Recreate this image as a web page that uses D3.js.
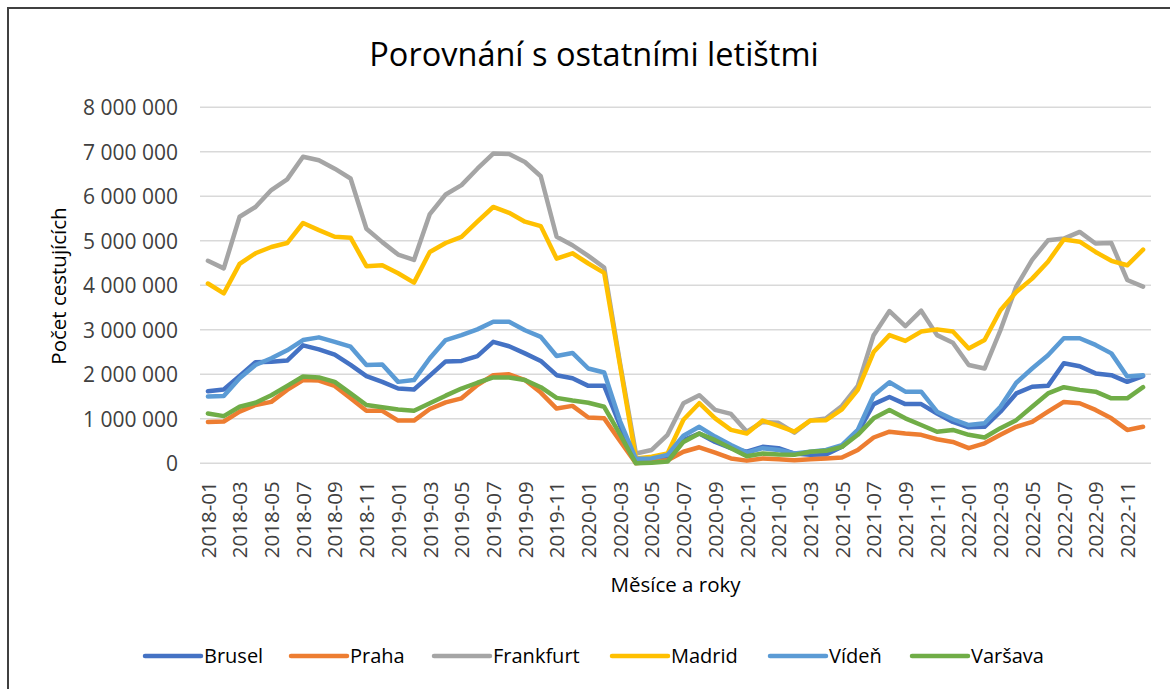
<!DOCTYPE html>
<html>
<head>
<meta charset="utf-8">
<script src="https://cdn.jsdelivr.net/npm/d3@7"></script>
<style>
  body { margin: 0; background: #fff; }
  svg { display: block; font-family: "Open Sans", sans-serif; }
</style>
</head>
<body>
<svg id="chart" width="1170" height="689"></svg>
<script>
// categories: months 2018-01 .. 2022-12
var years = [2018, 2019, 2020, 2021, 2022];
var months = ["01", "02", "03", "04", "05", "06", "07", "08", "09", "10", "11", "12"];
var categories = [];
years.forEach(function(y) { months.forEach(function(m) { categories.push(y + "-" + m); }); });

// passengers per month, millions
var brusel = [1.62,1.66,1.96,2.27,2.28,2.31,2.65,2.56,2.44,2.21,1.96,1.83,1.68,1.66,1.97,2.29,2.30,2.41,2.73,2.63,2.47,2.30,1.98,1.91,1.74,1.74,0.85,0.07,0.07,0.15,0.52,0.67,0.48,0.34,0.26,0.37,0.34,0.22,0.19,0.20,0.37,0.69,1.33,1.49,1.33,1.33,1.12,0.93,0.81,0.82,1.16,1.57,1.72,1.74,2.25,2.18,2.02,1.98,1.83,1.96];
var praha = [0.93,0.94,1.16,1.31,1.38,1.65,1.87,1.86,1.74,1.46,1.18,1.18,0.96,0.96,1.22,1.37,1.46,1.76,1.98,2.00,1.87,1.59,1.23,1.29,1.03,1.01,0.50,0.00,0.04,0.07,0.26,0.36,0.24,0.11,0.06,0.11,0.09,0.07,0.09,0.11,0.13,0.30,0.58,0.71,0.67,0.64,0.54,0.48,0.34,0.45,0.64,0.82,0.93,1.16,1.38,1.35,1.20,1.01,0.75,0.82];
var frankfurt = [4.55,4.38,5.54,5.76,6.14,6.38,6.89,6.81,6.62,6.40,5.27,4.97,4.69,4.57,5.60,6.04,6.25,6.62,6.96,6.95,6.77,6.45,5.09,4.90,4.66,4.40,2.25,0.22,0.30,0.64,1.35,1.53,1.20,1.11,0.71,0.93,0.91,0.69,0.96,1.01,1.29,1.74,2.88,3.42,3.08,3.43,2.88,2.71,2.21,2.13,2.99,3.97,4.57,5.01,5.05,5.20,4.94,4.95,4.12,3.97];
var madrid = [4.04,3.82,4.48,4.72,4.86,4.95,5.40,5.24,5.09,5.07,4.43,4.45,4.27,4.06,4.75,4.95,5.09,5.43,5.76,5.63,5.43,5.33,4.60,4.72,4.49,4.28,2.20,0.11,0.15,0.22,0.98,1.35,1.01,0.75,0.67,0.96,0.84,0.71,0.96,0.97,1.21,1.65,2.50,2.88,2.75,2.96,3.01,2.96,2.58,2.77,3.44,3.85,4.15,4.53,5.03,4.98,4.75,4.55,4.45,4.80];
var viden = [1.50,1.51,1.91,2.21,2.36,2.54,2.77,2.83,2.73,2.62,2.21,2.22,1.83,1.87,2.36,2.77,2.88,3.01,3.18,3.18,2.99,2.84,2.41,2.48,2.13,2.04,0.95,0.10,0.11,0.19,0.62,0.82,0.60,0.41,0.24,0.34,0.30,0.22,0.26,0.30,0.41,0.75,1.53,1.82,1.61,1.61,1.16,0.99,0.86,0.90,1.27,1.81,2.13,2.43,2.81,2.81,2.66,2.47,1.95,1.98];
var varsava = [1.12,1.06,1.27,1.36,1.53,1.74,1.95,1.93,1.83,1.57,1.31,1.26,1.21,1.18,1.35,1.52,1.68,1.81,1.93,1.93,1.87,1.71,1.47,1.41,1.36,1.27,0.65,0.00,0.01,0.04,0.48,0.67,0.52,0.34,0.16,0.22,0.20,0.19,0.26,0.28,0.37,0.64,1.01,1.20,1.01,0.86,0.71,0.75,0.64,0.58,0.79,0.97,1.27,1.57,1.71,1.65,1.61,1.46,1.46,1.71];

var seriesNames = ["Brusel", "Praha", "Frankfurt", "Madrid", "Vídeň", "Varšava"];
var seriesValues = [brusel, praha, frankfurt, madrid, viden, varsava];
var seriesColors = ["#4472C4", "#ED7D31", "#A5A5A5", "#FFC000", "#5B9BD5", "#70AD47"];
var yTicks = [0, 1000000, 2000000, 3000000, 4000000, 5000000, 6000000, 7000000, 8000000];

var svg = d3.select("#chart");

// outer frame (cut off at right and bottom like the source image)
svg.append("path")
	.attr("d", "M8,689 L8,8 L1170,8")
	.attr("fill", "none")
	.attr("stroke", "#404040")
	.attr("stroke-width", 2);

var plot = { left: 200, right: 1151, top: 107.3, bottom: 463.3 };

var x = d3.scalePoint()
	.domain(categories)
	.range([plot.left, plot.right])
	.padding(0.5);

var y = d3.scaleLinear()
	.domain([0, 8000000])
	.range([plot.bottom, plot.top]);

var fmt = function(v) { return d3.format(",")(v).replace(/,/g, " "); };

// gridlines
svg.append("g").selectAll("line")
	.data(yTicks)
	.join("line")
	.attr("x1", plot.left)
	.attr("x2", plot.right)
	.attr("y1", function(d) { return y(d); })
	.attr("y2", function(d) { return y(d); })
	.attr("stroke", "#D9D9D9")
	.attr("stroke-width", 1.5);

// y axis labels
var yAxis = svg.append("g")
	.attr("transform", "translate(" + (plot.left - 22) + ",0)")
	.call(d3.axisLeft(y).tickValues(yTicks).tickFormat(fmt).tickSize(0).tickPadding(0));
yAxis.select(".domain").remove();
yAxis.selectAll("text")
	.attr("font-family", "Open Sans, sans-serif")
	.attr("font-size", 21)
	.attr("fill", "#404040")
	.attr("dy", "0.35em");

// x axis labels (every other month)
var xAxis = svg.append("g")
	.attr("transform", "translate(0," + (plot.bottom + 18) + ")")
	.call(d3.axisBottom(x)
		.tickValues(categories.filter(function(d, i) { return i % 2 === 0; }))
		.tickSize(0).tickPadding(0));
xAxis.select(".domain").remove();
xAxis.selectAll("text")
	.attr("font-family", "Open Sans, sans-serif")
	.attr("font-size", 20.5)
	.attr("fill", "#404040")
	.attr("transform", "rotate(-90)")
	.attr("text-anchor", "end")
	.attr("x", 0)
	.attr("y", 0)
	.attr("dy", "0.35em");

// lines
var line = d3.line()
	.x(function(d, i) { return x(categories[i]); })
	.y(function(d) { return y(d * 1000000); });

svg.append("g").selectAll("path")
	.data(seriesValues)
	.join("path")
	.attr("d", line)
	.attr("fill", "none")
	.attr("stroke", function(d, i) { return seriesColors[i]; })
	.attr("stroke-width", 4.5)
	.attr("stroke-linejoin", "round")
	.attr("stroke-linecap", "round");

// title and axis titles
svg.append("text")
	.attr("x", 594)
	.attr("y", 66)
	.attr("text-anchor", "middle")
	.attr("font-size", 32.5)
	.attr("fill", "#000")
	.text("Porovnání s ostatními letištmi");

svg.append("text")
	.attr("transform", "translate(66,286) rotate(-90)")
	.attr("text-anchor", "middle")
	.attr("font-size", 20.5)
	.attr("fill", "#000")
	.text("Počet cestujících");

svg.append("text")
	.attr("x", (plot.left + plot.right) / 2)
	.attr("y", 592)
	.attr("text-anchor", "middle")
	.attr("font-size", 20.5)
	.attr("fill", "#000")
	.text("Měsíce a roky");

// legend
var legendX = [145, 291, 434, 612, 770, 912];
var legend = svg.append("g").attr("transform", "translate(0,656)");
var item = legend.selectAll("g")
	.data(seriesNames)
	.join("g")
	.attr("transform", function(d, i) { return "translate(" + legendX[i] + ",0)"; });
item.append("line")
	.attr("x1", 0).attr("x2", 56)
	.attr("stroke", function(d, i) { return seriesColors[i]; })
	.attr("stroke-width", 4.5)
	.attr("stroke-linecap", "round");
item.append("text")
	.attr("x", 59)
	.attr("dy", "0.35em")
	.attr("font-size", 20)
	.attr("fill", "#000")
	.text(function(d) { return d; });
</script>
</body>
</html>
